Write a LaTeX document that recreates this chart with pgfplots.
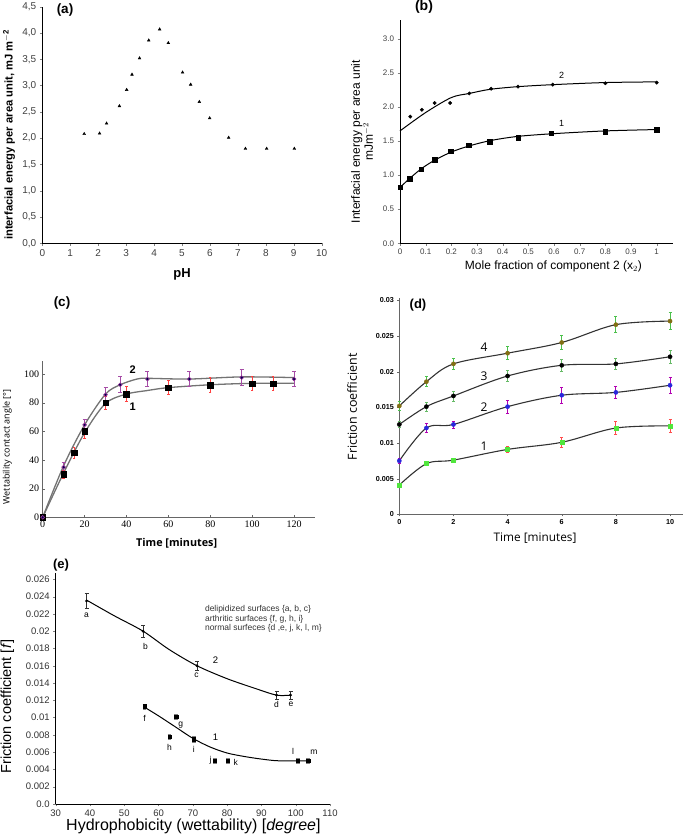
\documentclass[border=0pt]{standalone}
\usepackage{pgfplots}
\pgfplotsset{compat=1.18}
\usepackage{pgfplotstable}
\usepackage{fontspec}
\setmainfont{Liberation Sans}
\newfontfamily\serifnum{Liberation Serif}
\newfontfamily\opensans{Open Sans}

% ---------- panel (a)
\pgfplotstableread{
x y
1.50 2.08
2.05 2.09
2.30 2.28
2.76 2.61
3.02 2.92
3.21 3.21
3.48 3.52
3.81 3.86
4.20 4.07
4.51 3.81
5.02 3.25
5.31 3.02
5.62 2.69
5.99 2.38
6.67 2.01
7.27 1.80
8.03 1.80
9.02 1.80
}\dataA
% ---------- panel (b)
\pgfplotstableread{
x y
0.04 1.86
0.085 1.96
0.135 2.06
0.195 2.06
0.27 2.20
0.355 2.27
0.46 2.30
0.595 2.33
0.80 2.35
1.00 2.36
}\dataBtwo
\pgfplotstableread{
x y
0.00 0.82
0.037 0.95
0.083 1.09
0.135 1.23
0.197 1.35
0.267 1.44
0.35 1.49
0.46 1.55
0.59 1.62
0.80 1.64
1.00 1.67
}\dataBone
\pgfplotstableread{
x y
0.00 1.65
0.10 1.92
0.20 2.14
0.27 2.20
0.35 2.26
0.46 2.30
0.60 2.33
0.80 2.36
1.00 2.37
}\fitBtwo
\pgfplotstableread{
x y
0.00 0.82
0.04 0.96
0.085 1.10
0.135 1.22
0.20 1.34
0.27 1.43
0.355 1.51
0.46 1.57
0.60 1.61
0.80 1.65
1.00 1.67
}\fitBone
% ---------- panel (c)
\pgfplotstableread{
x y e
0 0 0
10 30 3
15 45 4
20 60 5
30 80 4.5
40 86 5
60 90.5 5
80 92.3 5
100 93.3 5
110 93.3 5
}\dataCone
\pgfplotstableread{
x y e
0 0 0
10 35 3
20 64.5 4
30 85.5 5
37 92.5 5.5
50 96.5 5.5
70 96.5 5.5
95 97.5 5.5
120 96.5 5.5
}\dataCtwo
\pgfplotstableread{
x y
0 0
10 36
20 64.5
30 86
37 92.5
45 96.5
50 97
70 96.5
95 98
120 97.5
}\fitCtwo
\pgfplotstableread{
x y
0 0
10 31
20 59
30 79.5
40 86
50 88.5
60 90.5
80 92.5
100 93.5
120 93.5
}\fitCone
% ---------- panel (d)
\pgfplotstableread{
x y e
0 0.0152 0.0006
1 0.0186 0.0007
2 0.0211 0.0008
4 0.0226 0.0009
6 0.0241 0.0010
8 0.0266 0.0011
10 0.0271 0.0012
}\dataDfour
\pgfplotstableread{
x y e
0 0.0126 0.0004
1 0.0151 0.0006
2 0.0166 0.0007
4 0.0194 0.0008
6 0.0209 0.0008
8 0.0211 0.0008
10 0.0221 0.0009
}\dataDthree
\pgfplotstableread{
x y e
0 0.0075 0.0003
1 0.0121 0.0006
2 0.0126 0.0005
4 0.0151 0.0009
6 0.0167 0.0011
8 0.0171 0.0008
10 0.0181 0.0011
}\dataDtwo
\pgfplotstableread{
x y e
0 0.0041 0.0003
1 0.0071 0.0003
2 0.0076 0.0003
4 0.0091 0.0004
6 0.0101 0.0007
8 0.0121 0.0009
10 0.0124 0.0009
}\dataDone
% ---------- panel (e)
\pgfplotstableread{
x y e
39 0.0235 0.00085
55.5 0.0200 0.0007
71.2 0.0160 0.00055
94.4 0.0126 0.00045
98.5 0.0126 0.0005
}\dataEtwo
\pgfplotstableread{
x y e
55.9 0.0113 0.0003
65.1 0.0101 0.0003
63.2 0.0078 0.0003
70.3 0.0075 0.0003
76.4 0.0050 0.0003
80.2 0.0050 0.0003
100.6 0.0050 0.0003
103.6 0.0050 0.0003
}\dataEone
\pgfplotstableread{
x y
39 0.0236
47 0.0218
55.5 0.0200
63 0.0179
71.2 0.0160
80 0.0145
88 0.0134
94.4 0.0126
98.5 0.0126
}\fitEtwo
\pgfplotstableread{
x y
55.9 0.0112
60 0.0102
65 0.0089
70 0.0076
75 0.0066
80 0.0059
85 0.0055
90 0.0052
95 0.0050
103.6 0.0050
}\fitEone

\pgfplotsset{panel/.style={scale only axis, anchor=south west, clip=false,
  axis lines=left, axis line style={-}, tick align=outside,
  scaled ticks=false,
  /pgf/number format/assume math mode=true,
  every axis x label/.style={anchor=center},
  every axis y label/.style={anchor=center, rotate=90}}}

\begin{document}
\begin{tikzpicture}
\path[use as bounding box] (0pt,0pt) rectangle (685pt,836pt);

% ================= (a)
\begin{axis}[panel, at={(42.3pt,592.7pt)}, width=279.4pt, height=236.6pt,
  xmin=0, xmax=10, ymin=0, ymax=4.5,
  xtick={0,1,2,3,4,5,6,7,8,9,10},
  ytick={0,0.5,1,1.5,2,2.5,3,3.5,4,4.5},
  yticklabel style={/pgf/number format/.cd, fixed, fixed zerofill, precision=1, use comma},
  tick label style={font=\fontsize{10}{12}\selectfont, text=black!75},
  major tick length=2.5pt,
  xlabel={pH}, xlabel style={font=\fontsize{13}{15}\selectfont\bfseries, at={(axis description cs:0.5,-0.13)}},
  ylabel={interfacial energy per area unit, mJ m$^{\mathbf{-2}}$},
  ylabel style={font=\fontsize{11.2}{13}\selectfont\bfseries, at={(axis description cs:-0.119,0.458)}}]
\addplot[only marks, mark=triangle*, mark size=1.6pt, black] table[x=x,y=y] {\dataA};
\end{axis}
\node[font=\fontsize{13.5}{15}\selectfont\bfseries] at (65pt,826pt) {(a)};

% ================= (b)
\begin{axis}[panel, at={(400pt,592.7pt)}, width=273.4pt, height=223.4pt,
  xmin=0, xmax=1.065, ymin=0, ymax=3.28,
  xtick={0,0.1,0.2,0.3,0.4,0.5,0.6,0.7,0.8,0.9,1},
  xticklabels={0,0.1,0.2,0.3,0.4,0.5,0.6,0.7,0.8,0.9,1},
  ytick={0,0.5,1,1.5,2,2.5,3},
  yticklabels={0.0,0.5,1.0,1.5,2.0,2.5,3.0},
  tick label style={font=\fontsize{8}{9}\selectfont, text=black!75},
  major tick length=2.5pt,
  xlabel={Mole fraction of component 2 (x$_2$)},
  xlabel style={font=\fontsize{12}{14}\selectfont, at={(axis description cs:0.561,-0.105)}},
  ylabel={Interfacial energy per area unit\\mJm$^{-2}$},
  ylabel style={align=center, font=\fontsize{12}{12}\selectfont, at={(axis description cs:-0.139,0.455)}}]
\addplot[black, line width=1pt, smooth, tension=0.5] table[x=x,y=y] {\fitBtwo};
\addplot[black, line width=1pt, smooth, tension=0.5] table[x=x,y=y] {\fitBone};
\addplot[only marks, mark=*, mark size=1.7pt, black] table[x=x,y=y] {\dataBtwo};
\addplot[only marks, mark=square*, mark size=2.2pt, black] table[x=x,y=y] {\dataBone};
\node[font=\fontsize{9}{10}\selectfont] at (axis cs:0.63,2.47) {2};
\node[font=\fontsize{9}{10}\selectfont] at (axis cs:0.63,1.76) {1};
\end{axis}
\node[font=\fontsize{14}{16}\selectfont\bfseries] at (424pt,829pt) {(b)};

% ================= (c)
\begin{axis}[panel, at={(42.7pt,318.7pt)}, width=272.3pt, height=156.6pt,
  xmin=0, xmax=130, ymin=0, ymax=109.3,
  axis line style={-, black!60, line width=0.8pt},
  tick align=inside, major tick length=2pt, tick style={black!60},
  xtick={0,20,40,60,80,100,120}, ytick={0,20,40,60,80,100},
  tick label style={font=\serifnum\fontsize{10}{12}\selectfont},
  xlabel={Time [minutes]},
  xlabel style={font=\opensans\fontsize{10.8}{12}\selectfont\bfseries, at={(axis description cs:0.492,-0.166)}},
  ylabel={Wettability contact angle [°]},
  ylabel style={font=\opensans\fontsize{9}{11}\selectfont, at={(axis description cs:-0.13,0.45)}}]
\addplot[black!55, line width=1.3pt, smooth, tension=0.5] table[x=x,y=y] {\fitCtwo};
\addplot[black!55, line width=1.3pt, smooth, tension=0.5] table[x=x,y=y] {\fitCone};
\addplot[only marks, mark=square*, mark size=2.8pt, black,
  error bars/.cd, y dir=both, y explicit,
  error bar style={red!75, line width=0.9pt},
  error mark options={rotate=90, red!75, mark size=1.2pt, line width=0.9pt}]
  table[x=x,y=y,y error=e] {\dataCone};
\addplot[only marks, mark=*, mark size=1.9pt, mark options={draw=violet!80, fill=blue!30!black, line width=0.6pt},
  error bars/.cd, y dir=both, y explicit,
  error bar style={violet!70, line width=0.9pt},
  error mark options={rotate=90, violet!70, mark size=2pt, line width=0.9pt}]
  table[x=x,y=y,y error=e] {\dataCtwo};
\node[font=\fontsize{11}{12}\selectfont\bfseries] at (axis cs:43,103) {2};
\node[font=\fontsize{11}{12}\selectfont\bfseries] at (axis cs:43,77.5) {1};
\end{axis}
\node[font=\fontsize{13.5}{15}\selectfont\bfseries] at (62pt,533pt) {(c)};

% ================= (d)
\begin{axis}[panel, at={(399.3pt,321.7pt)}, width=284pt, height=216pt,
  xmin=0, xmax=10.49, ymin=0, ymax=0.0303,
  axis line style={-, black!60, line width=0.7pt}, tick style={black!60},
  major tick length=2pt,
  xtick={0,2,4,6,8,10},
  ytick={0,0.005,0.01,0.015,0.02,0.025,0.03},
  yticklabels={0,0.005,0.01,0.015,0.02,0.025,0.03},
  tick label style={font=\fontsize{7.2}{8}\selectfont\bfseries},
  xlabel={Time [minutes]},
  xlabel style={font=\opensans\fontsize{11.8}{13}\selectfont, at={(axis description cs:0.478,-0.111)}},
  ylabel={Friction coefficient},
  ylabel style={font=\opensans\fontsize{12.5}{14}\selectfont, at={(axis description cs:-0.166,0.498)}}]
\addplot[black!80, line width=1.1pt, smooth, tension=0.55] table[x=x,y=y] {\dataDfour};
\addplot[black!80, line width=1.1pt, smooth, tension=0.55] table[x=x,y=y] {\dataDthree};
\addplot[black!80, line width=1.1pt, smooth, tension=0.55] table[x=x,y=y] {\dataDtwo};
\addplot[black!80, line width=1.1pt, smooth, tension=0.55] table[x=x,y=y] {\dataDone};
\addplot[only marks, mark=*, mark size=2.1pt, color={rgb,255:red,130;green,110;blue,20},
  error bars/.cd, y dir=both, y explicit,
  error bar style={green!65!black!70, line width=0.8pt},
  error mark options={rotate=90, green!65!black!70, mark size=1.5pt, line width=0.8pt}]
  table[x=x,y=y,y error=e] {\dataDfour};
\addplot[only marks, mark=*, mark size=2.1pt, black,
  error bars/.cd, y dir=both, y explicit,
  error bar style={green!55!black!60, line width=0.8pt},
  error mark options={rotate=90, green!55!black!60, mark size=1.5pt, line width=0.8pt}]
  table[x=x,y=y,y error=e] {\dataDthree};
\addplot[only marks, mark=*, mark size=2.1pt, color={rgb,255:red,40;green,40;blue,220},
  error bars/.cd, y dir=both, y explicit,
  error bar style={violet!60!magenta, line width=0.8pt},
  error mark options={rotate=90, violet!60!magenta, mark size=1.5pt, line width=0.8pt}]
  table[x=x,y=y,y error=e] {\dataDtwo};
\addplot[only marks, mark=square*, mark size=2pt, color={rgb,255:red,80;green,230;blue,60},
  error bars/.cd, y dir=both, y explicit,
  error bar style={red!70, line width=0.8pt},
  error mark options={rotate=90, red!70, mark size=1.5pt, line width=0.8pt}]
  table[x=x,y=y,y error=e] {\dataDone};
\node[font=\opensans\fontsize{12}{14}\selectfont] at (axis cs:3.13,0.0234) {4};
\node[font=\opensans\fontsize{12}{14}\selectfont] at (axis cs:3.13,0.0193) {3};
\node[font=\opensans\fontsize{12}{14}\selectfont] at (axis cs:3.13,0.0150) {2};
\node[font=\opensans\fontsize{12}{14}\selectfont] at (axis cs:3.13,0.0096) {1};
\end{axis}
\node[font=\fontsize{13}{15}\selectfont\bfseries] at (418pt,531pt) {(d)};

% ================= (e)
\begin{axis}[panel, at={(55.7pt,32pt)}, width=274.3pt, height=230.7pt,
  xmin=30, xmax=110, ymin=0, ymax=0.0267,
  major tick length=2.5pt,
  xtick={30,40,50,60,70,80,90,100,110},
  ytick={0,0.002,0.004,0.006,0.008,0.01,0.012,0.014,0.016,0.018,0.02,0.022,0.024,0.026},
  yticklabels={0.0,0.002,0.004,0.006,0.008,0.01,0.012,0.014,0.016,0.018,0.02,0.022,0.024,0.026},
  tick label style={font=\fontsize{9.5}{11}\selectfont, text=black!80},
  xlabel={Hydrophobicity (wettability) [\textit{degree}]},
  xlabel style={font=\fontsize{16}{18}\selectfont, at={(axis description cs:0.502,-0.098)}},
  ylabel={Friction coefficient [\textit{f}]},
  ylabel style={font=\fontsize{14.5}{16}\selectfont, at={(axis description cs:-0.176,0.422)}}]
\addplot[black, line width=1pt, smooth, tension=0.5] table[x=x,y=y] {\fitEtwo};
\addplot[black, line width=1pt, smooth, tension=0.5] table[x=x,y=y] {\fitEone};
\addplot[only marks, mark=*, mark size=1.2pt, black,
  error bars/.cd, y dir=both, y explicit,
  error bar style={black!80, line width=0.5pt},
  error mark options={rotate=90, black!80, mark size=2pt, line width=0.5pt}]
  table[x=x,y=y,y error=e] {\dataEtwo};
\addplot[only marks, mark=square*, mark size=1.7pt, black,
  error bars/.cd, y dir=both, y explicit,
  error bar style={black!50, line width=0.4pt},
  error mark options={rotate=90, black!50, mark size=1.8pt, line width=0.4pt}]
  table[x=x,y=y,y error=e] {\dataEone};
\begin{scope}[every node/.style={font=\fontsize{8.5}{10}\selectfont}]
\node at (axis cs:39,0.0218) {a};
\node at (axis cs:56.2,0.0182) {b};
\node at (axis cs:71.1,0.0149) {c};
\node at (axis cs:94.4,0.0115) {d};
\node at (axis cs:98.6,0.0115) {e};
\node at (axis cs:55.9,0.0099) {f};
\node at (axis cs:66.5,0.0091) {g};
\node at (axis cs:63.2,0.0066) {h};
\node at (axis cs:70.3,0.0063) {i};
\node at (axis cs:75.2,0.0050) {j};
\node at (axis cs:82.5,0.0048) {k};
\node at (axis cs:99.2,0.0061) {l};
\node at (axis cs:105.3,0.0060) {m};
\end{scope}
\node[font=\fontsize{9.5}{11}\selectfont] at (axis cs:76.6,0.0167) {2};
\node[font=\fontsize{9.5}{11}\selectfont] at (axis cs:76.6,0.0077) {1};
\node[anchor=north west, align=left, inner sep=0pt, font=\fontsize{8.5}{9.5}\selectfont, text=black!80]
  at (axis cs:73.5,0.0230) {delipidized surfaces \{a, b, c\}\\arthritic surfaces \{f, g, h, i\}\\normal surfeces \{d ,e, j, k, l, m\}};
\end{axis}
\node[font=\fontsize{13}{15}\selectfont\bfseries] at (61pt,271pt) {(e)};
\end{tikzpicture}
\end{document}
